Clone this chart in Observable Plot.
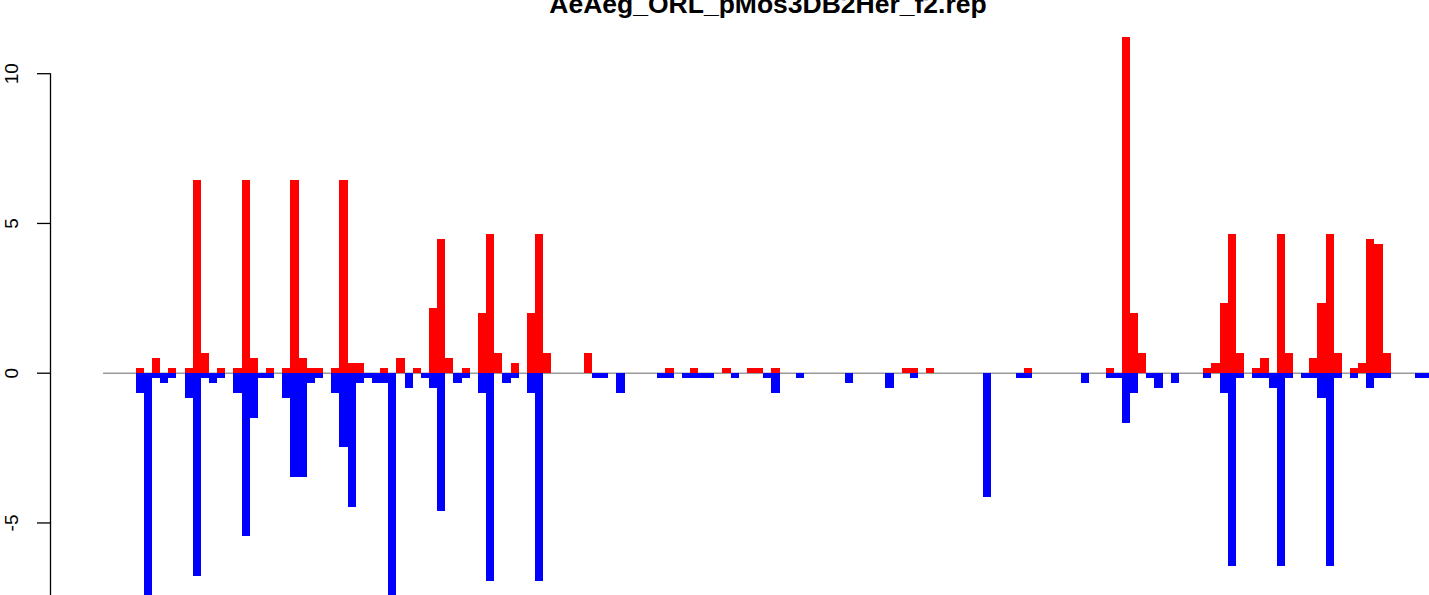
<!DOCTYPE html>
<html>
<head>
<meta charset="utf-8">
<script src="https://cdn.jsdelivr.net/npm/d3@7"></script>
<script src="https://cdn.jsdelivr.net/npm/@observablehq/plot@0.6"></script>
<style>
  html, body { margin: 0; padding: 0; background: #fff; overflow: hidden; }
  svg { display: block; }
</style>
</head>
<body>
<div id="chart"></div>
<script>
// ---- data ----
const title = "AeAeg_ORL_pMos3DB2Her_f2.rep";

// positive (red) series: slot index and value
const redSlots = [0, 2, 4, 6, 7, 8, 10, 12, 13, 14, 16, 18, 19, 20, 21, 22, 24, 25, 26, 27,
  30, 32, 34, 36, 37, 38, 40, 42, 43, 44, 46, 48, 49, 50, 55, 65, 68, 72, 75, 76, 78,
  94, 95, 97, 109, 119, 121, 122, 123, 131, 132, 133, 134, 135, 137, 138, 140, 141,
  144, 145, 146, 147, 149, 150, 151, 152, 153];
const redValues = [0.167, 0.5, 0.167, 0.167, 6.43, 0.667, 0.167, 0.167, 6.43, 0.5, 0.167, 0.167, 6.43, 0.5, 0.167, 0.167, 0.167, 6.43, 0.333, 0.333,
  0.167, 0.5, 0.167, 2.16, 4.46, 0.5, 0.167, 2.0, 4.63, 0.667, 0.333, 2.0, 4.63, 0.667, 0.667, 0.167, 0.167, 0.167, 0.167, 0.167, 0.167,
  0.167, 0.167, 0.167, 0.167, 0.167, 11.21, 2.0, 0.667, 0.167, 0.333, 2.33, 4.63, 0.667, 0.167, 0.5, 4.63, 0.667,
  0.5, 2.33, 4.63, 0.667, 0.167, 0.333, 4.46, 4.30, 0.667];

// negative (blue) series: slot index and value
const blueSlots = [0, 1, 2, 3, 4, 6, 7, 8, 9, 10, 12, 13, 14, 15, 16, 18, 19, 20, 21, 22,
  24, 25, 26, 27, 28, 29, 30, 31, 33, 35, 36, 37, 39, 40, 42, 43, 45, 46, 48, 49,
  56, 57, 59, 64, 65, 67, 68, 69, 70, 73, 77, 78, 81, 87, 92, 95, 104,
  108, 109, 116, 119, 120, 121, 122, 124, 125, 127, 131, 133, 134, 135, 137, 138, 139,
  140, 141, 143, 144, 145, 146, 147, 149, 151, 152, 153, 157, 158];
const blueValues = [-0.667, -7.5, -0.167, -0.333, -0.167, -0.833, -6.78, -0.167, -0.333, -0.167, -0.667, -5.44, -1.5, -0.167, -0.167, -0.833, -3.47, -3.47, -0.333, -0.167,
  -0.667, -2.47, -4.47, -0.333, -0.167, -0.333, -0.333, -7.5, -0.5, -0.167, -0.5, -4.61, -0.333, -0.167, -0.667, -6.95, -0.333, -0.167, -0.667, -6.95,
  -0.167, -0.167, -0.667, -0.167, -0.167, -0.167, -0.167, -0.167, -0.167, -0.167, -0.167, -0.667, -0.167, -0.333, -0.5, -0.167, -4.14,
  -0.167, -0.167, -0.333, -0.167, -0.167, -1.67, -0.667, -0.167, -0.5, -0.333, -0.167, -0.667, -6.44, -0.167, -0.167, -0.167, -0.5,
  -6.44, -0.167, -0.167, -0.167, -0.833, -6.44, -0.167, -0.167, -0.5, -0.167, -0.167, -0.167, -0.167];

const yTicks = [-5, 0, 5, 10];
const yTickLabels = ["-5", "0", "5", "10"];

// ---- build tables ----
const red = redSlots.map((s, k) => ({slot: s, value: redValues[k]}));
const blue = blueSlots.map((s, k) => ({slot: s, value: blueValues[k]}));
const ticks = yTicks.map((v, k) => ({value: v, label: yTickLabels[k]}));

const xDomain = [-10.509, 158.693];
const yDomain = [-7.422, 12.444];
const font = "'Liberation Sans', Arial, Helvetica, sans-serif";

const chart = Plot.plot({
  width: 1429,
  height: 595,
  marginLeft: 50,
  marginRight: 0,
  marginTop: 0,
  marginBottom: 0,
  style: {background: "#fff", fontFamily: font, overflow: "hidden"},
  x: {type: "linear", domain: xDomain, axis: null},
  y: {type: "linear", domain: yDomain, axis: null},
  marks: [
    // zero reference line
    Plot.ruleY([0], {x1: -4, x2: xDomain[1], stroke: "#9a9a9a", strokeWidth: 1.5}),
    // bars
    Plot.rectY(red, {x1: d => d.slot, x2: d => d.slot + 1, y1: 0, y2: "value", fill: "#ff0000", shapeRendering: "crispEdges"}),
    Plot.rectY(blue, {x1: d => d.slot, x2: d => d.slot + 1, y1: 0, y2: "value", fill: "#0000ff", shapeRendering: "crispEdges"}),
    // y axis line (R style)
    Plot.ruleX([xDomain[0]], {y1: yDomain[0], y2: yTicks[yTicks.length - 1], stroke: "#000", strokeWidth: 1.3}),
    // y ticks
    Plot.axisY(yTicks, {anchor: "left", tickSize: 13, tickFormat: () => "", stroke: "#000", strokeWidth: 1.3, label: null}),
    // y tick labels (rotated)
    Plot.text(ticks, {y: "value", text: "label", frameAnchor: "left", dx: -39, rotate: -90,
      fontSize: 19, fill: "#000", textAnchor: "middle", lineAnchor: "middle", fontFamily: font}),
    // title (clipped at the top as in the reference)
    Plot.text([title], {frameAnchor: "top", dx: 28, dy: 12.5, lineAnchor: "bottom",
      fontSize: 26.5, fontWeight: "bold", fill: "#000", fontFamily: font})
  ]
});
document.getElementById("chart").appendChild(chart);
</script>
</body>
</html>
